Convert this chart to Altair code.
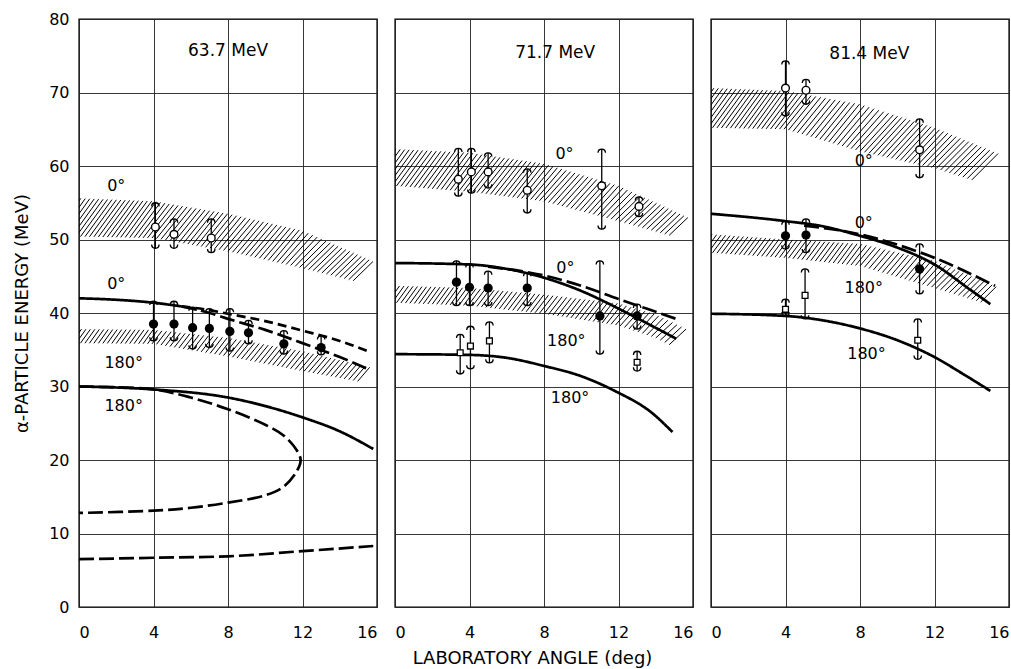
import numpy as np
import pandas as pd
import altair as alt

FONT = "DejaVu Sans"
X_TICKS = [0, 4, 8, 12, 16]
Y_TICKS = [0, 10, 20, 30, 40, 50, 60, 70, 80]
TITLES = ["63.7 MeV", "71.7 MeV", "81.4 MeV"]
TITLE_ANG = [8.0, 8.6, 8.5]
TITLE_E = [75.6, 75.4, 75.2]

# ---------------- hatched bands (angle, upper edge, lower edge) ----------------
p1_b0_ang = [0, 4, 8, 12, 15.8]
p1_b0_top = [55.6, 55.2, 53.5, 51.2, 47.0]
p1_b0_bot = [50.4, 50.2, 48.4, 46.1, 43.7]
p1_b180_ang = [0, 4, 8, 12, 15.8]
p1_b180_top = [37.8, 37.7, 36.6, 34.8, 32.5]
p1_b180_bot = [35.9, 35.8, 34.1, 32.1, 30.3]

p2_b0_ang = [0, 4, 8, 12, 15.8]
p2_b0_top = [62.3, 61.8, 60.3, 57.3, 52.9]
p2_b0_bot = [57.3, 56.5, 55.2, 52.5, 49.8]
p2_b180_ang = [0, 4, 8, 12, 14, 15.8]
p2_b180_top = [43.7, 43.4, 42.5, 41.3, 39.8, 37.6]
p2_b180_bot = [41.4, 41.0, 39.9, 38.3, 36.6, 34.3]

p3_b0_ang = [0, 4, 8, 12, 15.5]
p3_b0_top = [70.6, 70.2, 68.4, 65.2, 61.6]
p3_b0_bot = [65.2, 65.0, 62.0, 59.7, 56.9]
p3_b180_ang = [0, 4, 8, 12, 15.5]
p3_b180_top = [50.7, 50.0, 49.4, 47.1, 43.4]
p3_b180_bot = [48.2, 47.5, 46.4, 43.4, 40.7]

# ---------------- calculated curves ----------------
p1_c0s_ang = [0, 2, 4, 5.5]
p1_c0s_E = [42.0, 41.8, 41.4, 40.9]
p1_c0u_ang = [5.5, 7, 8, 10, 12, 14, 15.7]
p1_c0u_E = [40.9, 40.4, 39.9, 38.9, 37.6, 36.2, 34.6]
p1_c0l_ang = [5.5, 7, 8, 10, 12, 14, 15.5]
p1_c0l_E = [40.9, 40.0, 39.2, 37.7, 35.9, 34.0, 32.4]
p1_c180s_ang = [0, 4, 8, 12, 14, 15.8]
p1_c180s_E = [30.0, 29.6, 28.5, 25.8, 23.9, 21.5]
p1_loop_ang = [0, 4, 6, 8, 10, 11, 11.7, 11.9, 11.7, 11, 10, 8, 6, 4, 0]
p1_loop_E = [30.0, 29.6, 28.5, 26.9, 24.8, 23.3, 21.3, 20.0, 18.5, 16.4, 15.2, 14.2, 13.5, 13.1, 12.8]
p1_low_ang = [0, 4, 8, 12, 15.8]
p1_low_E = [6.5, 6.7, 6.9, 7.6, 8.3]

p2_c0s_ang = [0, 4, 6, 8, 10, 12, 13, 15.1]
p2_c0s_E = [46.8, 46.6, 46.0, 44.8, 43.0, 40.6, 39.3, 36.5]
p2_c0d_ang = [5, 8, 10, 12, 13.5, 15.1]
p2_c0d_E = [46.3, 45.1, 43.7, 41.9, 40.6, 39.2]
p2_c180_ang = [0, 4, 6, 8, 10, 11.8, 13.8, 14.9]
p2_c180_E = [34.4, 34.3, 33.9, 32.8, 31.4, 29.4, 26.4, 23.8]

p3_c0s_ang = [0, 4, 6, 8, 10, 12, 13.9, 15.0]
p3_c0s_E = [53.5, 52.5, 51.8, 50.5, 48.9, 46.6, 43.2, 41.2]
p3_c0d_ang = [5, 8, 10, 12, 15.25]
p3_c0d_E = [51.9, 50.7, 49.3, 47.5, 43.7]
p3_c180_ang = [0, 4, 6, 8, 10, 12, 13.6, 15.0]
p3_c180_E = [39.9, 39.6, 39.0, 37.9, 36.3, 34.0, 31.6, 29.4]

# ---------------- measured points (angle, energy, upper, lower) ----------------
p1_open_ang = [4.1, 5.1, 7.1]
p1_open_E = [51.7, 50.7, 50.2]
p1_open_hi = [55.0, 52.8, 52.8]
p1_open_lo = [48.8, 48.8, 48.2]
p1_fill_ang = [4.0, 5.1, 6.1, 7.0, 8.1, 9.1, 11.0, 13.0]
p1_fill_E = [38.5, 38.5, 38.0, 37.9, 37.5, 37.3, 35.8, 35.3]
p1_fill_hi = [41.6, 41.6, 40.8, 40.6, 40.6, 39.0, 37.6, 36.9]
p1_fill_lo = [36.2, 36.2, 35.1, 35.3, 34.8, 35.8, 34.4, 34.3]

p2_open_ang = [3.4, 4.1, 5.0, 7.1, 11.1, 13.1]
p2_open_E = [58.2, 59.2, 59.2, 56.7, 57.3, 54.5]
p2_open_hi = [62.4, 62.4, 61.8, 59.6, 62.3, 55.8]
p2_open_lo = [55.9, 56.3, 57.0, 53.6, 51.4, 53.1]
p2_fill_ang = [3.3, 4.0, 5.0, 7.1, 11.0, 13.0]
p2_fill_E = [44.2, 43.5, 43.4, 43.4, 39.6, 39.6]
p2_fill_hi = [47.1, 46.7, 45.7, 45.5, 47.1, 41.2]
p2_fill_lo = [41.0, 41.0, 41.0, 41.0, 34.4, 37.8]
p2_sq_ang = [3.5, 4.05, 5.07, 13.0]
p2_sq_E = [34.6, 35.5, 36.2, 33.3]
p2_sq_hi = [37.1, 38.2, 38.8, 34.8]
p2_sq_lo = [31.7, 32.4, 33.2, 32.1]

p3_open_ang = [4.0, 5.1, 11.2]
p3_open_E = [70.6, 70.3, 62.2]
p3_open_hi = [74.3, 71.8, 66.4]
p3_open_lo = [66.8, 68.4, 58.4]
p3_fill_ang = [4.0, 5.1, 11.2]
p3_fill_E = [50.5, 50.6, 46.0]
p3_fill_hi = [52.5, 52.8, 49.4]
p3_fill_lo = [48.7, 48.2, 42.6]
p3_sq_ang = [4.0, 5.05, 11.1]
p3_sq_E = [40.5, 42.4, 36.3]
p3_sq_hi = [41.9, 46.0, 39.2]
p3_sq_lo = [39.6, 39.2, 33.7]

# ---------------- in-panel labels ----------------
p1_note_t = ["0°", "0°", "180°", "180°"]
p1_note_ang = [2.0, 2.0, 2.4, 2.4]
p1_note_E = [57.3, 43.9, 33.2, 27.3]
p2_note_t = ["0°", "0°", "180°", "180°"]
p2_note_ang = [9.1, 9.15, 9.2, 9.4]
p2_note_E = [61.6, 46.1, 36.2, 28.4]
p3_note_t = ["0°", "0°", "180°", "180°"]
p3_note_ang = [8.2, 8.2, 8.2, 8.35]
p3_note_E = [60.7, 52.2, 43.4, 34.4]

TOP_CAP = "M -1 1 C -1 -0.33 1 -0.33 1 1"
BOT_CAP = "M -1 -1 C -1 0.33 1 0.33 1 -1"
DASH_SCALE = alt.Scale(domain=["solid", "dash", "long"], range=[[1, 0], [9, 5], [15, 5]])


def hatch(ang, top, bot, step=0.24, k=0.28):
    """Diagonal hatch strokes spanning the band between its two edges."""
    rows = []
    end = ang[-1]
    a = -1.6
    while a <= end:
        h = np.interp(a, ang, top) - np.interp(a, ang, bot)
        a2 = a + h * k
        if a2 <= end:
            rows.append({"hx": a, "hy": float(np.interp(a, ang, bot)),
                         "hx2": a2, "hy2": float(np.interp(a2, ang, top))})
        a += step
    return pd.DataFrame(rows)


def curves_df(items):
    rows = []
    for name, style, ang, E in items:
        for i, (a, e) in enumerate(zip(ang, E)):
            rows.append({"name": name, "style": style, "ang": a, "E": e, "i": i})
    return pd.DataFrame(rows)


def pts_df(ang, E, hi, lo):
    return pd.DataFrame({"ang": ang, "E": E, "hi": hi, "lo": lo})


def build_panel(k, bands, curves, loops, groups, notes, yaxis, xaxis):
    xs = alt.Scale(domain=[0, 16], nice=False, zero=False)
    ys = alt.Scale(domain=[0, 80], nice=False, zero=False)

    def X(f):
        return alt.X(f"{f}:Q", scale=xs, axis=xaxis)

    def Y(f):
        return alt.Y(f"{f}:Q", scale=ys, axis=yaxis)

    layers = []
    hdf = pd.concat([hatch(*b) for b in bands], ignore_index=True)
    layers.append(alt.Chart(hdf).mark_rule(color="black", strokeWidth=1.0, clip=True).encode(
        x=X("hx"), y=Y("hy"), x2="hx2:Q", y2="hy2:Q"))

    cdf = curves_df(curves)
    layers.append(alt.Chart(cdf).mark_line(color="black", strokeWidth=2.7, clip=True,
                                           interpolate="monotone").encode(
        x=X("ang"), y=Y("E"), detail="name:N", order="i:Q",
        strokeDash=alt.StrokeDash("style:N", scale=DASH_SCALE, legend=None)))
    if loops:
        ldf = curves_df(loops)
        layers.append(alt.Chart(ldf).mark_line(color="black", strokeWidth=2.7, clip=True,
                                               interpolate="catmull-rom").encode(
            x=X("ang"), y=Y("E"), detail="name:N", order="i:Q",
            strokeDash=alt.StrokeDash("style:N", scale=DASH_SCALE, legend=None)))

    for kind, df in groups:
        base = alt.Chart(df)
        layers.append(base.mark_rule(color="black", strokeWidth=1.3).encode(
            x=X("ang"), y=Y("lo"), y2="hi:Q"))
        layers.append(base.mark_point(shape=TOP_CAP, filled=False, color="black",
                                      strokeWidth=1.3, size=55, opacity=1).encode(x=X("ang"), y=Y("hi")))
        layers.append(base.mark_point(shape=BOT_CAP, filled=False, color="black",
                                      strokeWidth=1.3, size=55, opacity=1).encode(x=X("ang"), y=Y("lo")))
        if kind == "open":
            m = base.mark_point(shape="circle", filled=True, fill="white", stroke="black",
                                strokeWidth=1.4, size=60, opacity=1, fillOpacity=1)
        elif kind == "fill":
            m = base.mark_point(shape="circle", filled=True, color="black", size=85, opacity=1)
        else:
            m = base.mark_point(shape="square", filled=True, fill="white", stroke="black",
                                strokeWidth=1.3, size=34, opacity=1, fillOpacity=1)
        layers.append(m.encode(x=X("ang"), y=Y("E")))

    t, a, e = notes
    ndf = pd.DataFrame({"t": t, "ang": a, "E": e})
    layers.append(alt.Chart(ndf).mark_text(font=FONT, fontSize=16, color="black").encode(
        x=X("ang"), y=Y("E"), text="t:N"))
    tdf = pd.DataFrame({"t": [TITLES[k]], "ang": [TITLE_ANG[k]], "E": [TITLE_E[k]]})
    layers.append(alt.Chart(tdf).mark_text(font=FONT, fontSize=17, color="black").encode(
        x=X("ang"), y=Y("E"), text="t:N"))

    return alt.layer(*layers).properties(width=298, height=588)


def xaxis(title=None):
    kw = dict(values=X_TICKS, grid=True, ticks=False, domain=False, labelFontSize=16,
              labelPadding=17, labelFont=FONT, format="d")
    if title:
        return alt.Axis(title=title, titleFontSize=18, titleFontWeight="normal", titleFont=FONT,
                        titleX=137, titleY=51, titleBaseline="middle", **kw)
    return alt.Axis(title=None, **kw)


y_main = alt.Axis(values=Y_TICKS, grid=True, ticks=False, domain=False, labelFontSize=16,
                  labelPadding=10, labelFont=FONT, format="d",
                  title="α-PARTICLE ENERGY (MeV)", titleFontSize=18, titleFontWeight="normal",
                  titleFont=FONT, titleX=-57, titleBaseline="middle")
y_none = alt.Axis(values=Y_TICKS, grid=True, ticks=False, domain=False, labels=False, title=None)

panel1 = build_panel(
    0,
    [(p1_b0_ang, p1_b0_top, p1_b0_bot), (p1_b180_ang, p1_b180_top, p1_b180_bot)],
    [("c0s", "solid", p1_c0s_ang, p1_c0s_E), ("c0u", "dash", p1_c0u_ang, p1_c0u_E),
     ("c0l", "long", p1_c0l_ang, p1_c0l_E), ("c180s", "solid", p1_c180s_ang, p1_c180s_E),
     ("low", "long", p1_low_ang, p1_low_E)],
    [("loop", "long", p1_loop_ang, p1_loop_E)],
    [("open", pts_df(p1_open_ang, p1_open_E, p1_open_hi, p1_open_lo)),
     ("fill", pts_df(p1_fill_ang, p1_fill_E, p1_fill_hi, p1_fill_lo))],
    (p1_note_t, p1_note_ang, p1_note_E), y_main, xaxis())

panel2 = build_panel(
    1,
    [(p2_b0_ang, p2_b0_top, p2_b0_bot), (p2_b180_ang, p2_b180_top, p2_b180_bot)],
    [("c0s", "solid", p2_c0s_ang, p2_c0s_E), ("c0d", "long", p2_c0d_ang, p2_c0d_E),
     ("c180", "solid", p2_c180_ang, p2_c180_E)],
    [],
    [("open", pts_df(p2_open_ang, p2_open_E, p2_open_hi, p2_open_lo)),
     ("fill", pts_df(p2_fill_ang, p2_fill_E, p2_fill_hi, p2_fill_lo)),
     ("sq", pts_df(p2_sq_ang, p2_sq_E, p2_sq_hi, p2_sq_lo))],
    (p2_note_t, p2_note_ang, p2_note_E), y_none, xaxis("LABORATORY ANGLE (deg)"))

panel3 = build_panel(
    2,
    [(p3_b0_ang, p3_b0_top, p3_b0_bot), (p3_b180_ang, p3_b180_top, p3_b180_bot)],
    [("c0s", "solid", p3_c0s_ang, p3_c0s_E), ("c0d", "long", p3_c0d_ang, p3_c0d_E),
     ("c180", "solid", p3_c180_ang, p3_c180_E)],
    [],
    [("open", pts_df(p3_open_ang, p3_open_E, p3_open_hi, p3_open_lo)),
     ("fill", pts_df(p3_fill_ang, p3_fill_E, p3_fill_hi, p3_fill_lo)),
     ("sq", pts_df(p3_sq_ang, p3_sq_E, p3_sq_hi, p3_sq_lo))],
    (p3_note_t, p3_note_ang, p3_note_E), y_none, xaxis())

chart = alt.hconcat(panel1, panel2, panel3, spacing=18, bounds="flush").properties(
    padding={"left": 12, "top": 10, "right": 0, "bottom": 0},
    background="white",
).configure_view(stroke="black", strokeWidth=1.4).configure_axis(
    gridColor="#222222", gridWidth=0.9, gridOpacity=1, labelColor="black", titleColor="black")

chart.save("out.html", embed_options={"renderer": "svg", "actions": False})
